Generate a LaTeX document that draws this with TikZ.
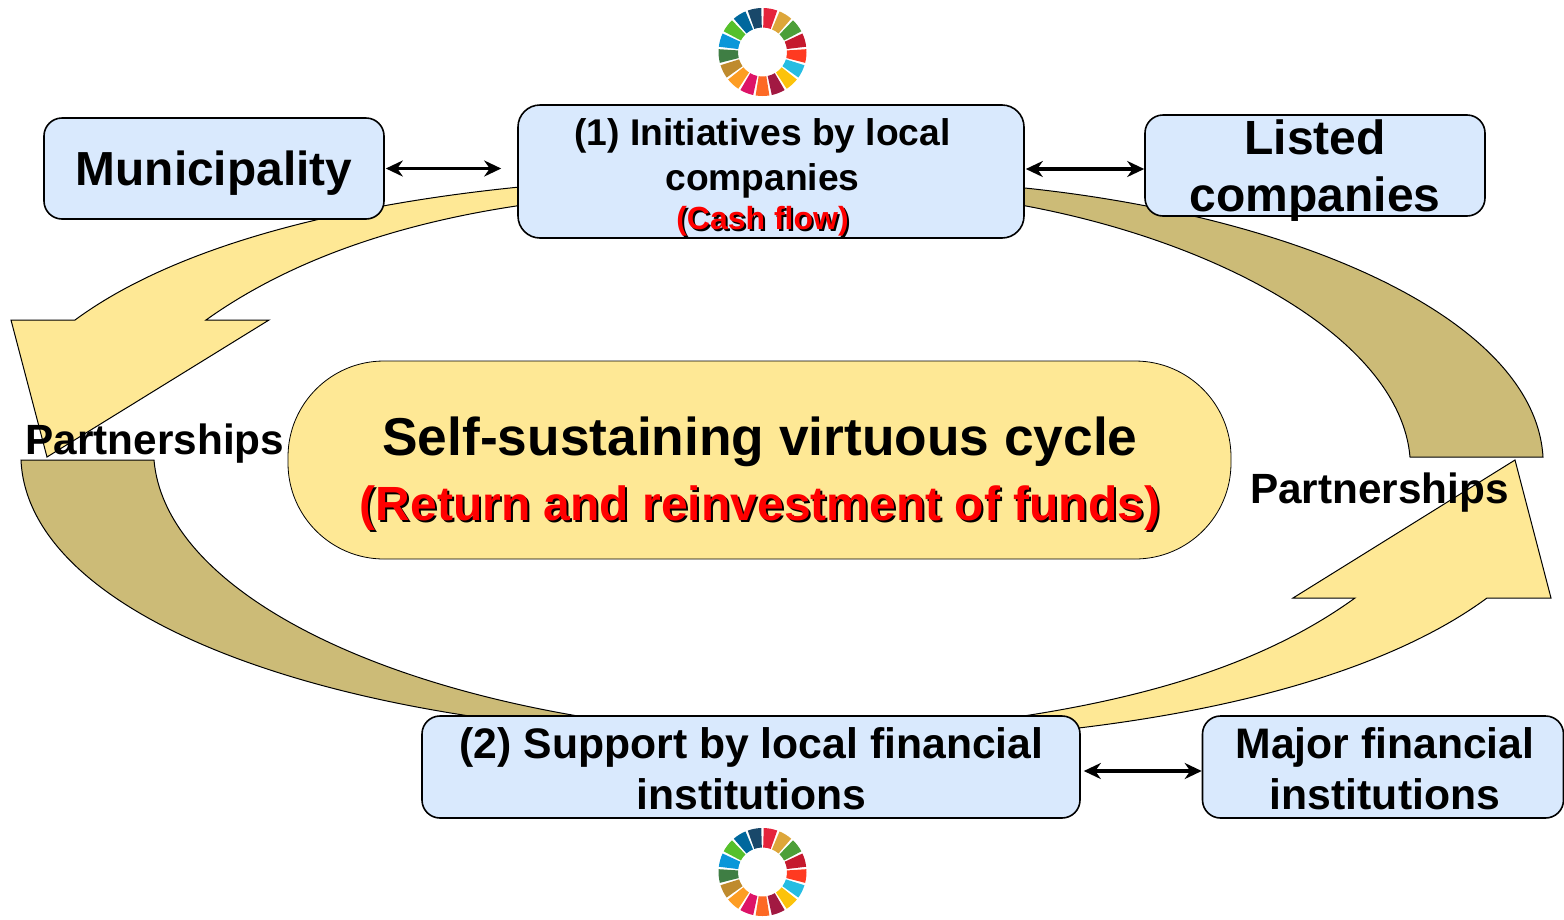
\documentclass[tikz,border=0pt]{standalone}
\usepackage{fontspec}
\setmainfont{Liberation Sans}
\usetikzlibrary{arrows.meta}
\definecolor{boxblue}{HTML}{D9E9FD}
\definecolor{sunyellow}{HTML}{FEE895}
\definecolor{khaki}{HTML}{CCBB77}
\newcommand\fsz[2]{\fontsize{#1}{#2}\selectfont\bfseries}
\newcommand\shtext[1]{\leavevmode\rlap{\kern2pt\raisebox{-2pt}{\textcolor{black}{#1}}}\textcolor{red}{#1}}
% places lines so that the first baseline lies dy below the node centre, shifted by dx
\newcommand\placed[3]{\makebox[0pt]{\kern#1pt\raisebox{#2pt}[0pt][0pt]{\begin{tabular}[t]{@{}c@{}}#3\end{tabular}}\kern-#1pt}}
\tikzset{
  infobox/.style={draw=black,line width=1.6pt,fill=boxblue,rounded corners=18pt,inner sep=0pt,text=black},
  flowyellow/.style={draw=black,line width=1pt,fill=sunyellow,line join=miter},
  flowbrown/.style={draw=black,line width=1pt,fill=khaki,line join=miter},
  linkarrow/.style={line width=3.2pt,{Stealth[length=17pt,width=16pt]}-{Stealth[length=17pt,width=16pt]}},
  plainlabel/.style={inner sep=0pt,text=black,font=\fsz{42.3}{48}},
  sdgwheel/.pic={
    \foreach \k/\c in {1/E5243B,2/DDA63A,3/4C9F38,4/C5192D,5/FF3A21,6/26BDE2,7/FCC30B,8/A21942,9/FD6925,10/DD1367,11/FD9D24,12/BF8B2E,13/3F7E44,14/0A97D9,15/56C02B,16/00689D,17/19486A}{
      \definecolor{wedgecol}{HTML}{\c}
      \pgfmathsetmacro\angA{-90+(\k-1)*21.176+1.6}
      \pgfmathsetmacro\angB{-90+\k*21.176-1.6}
      \fill[wedgecol] (\angA:44) arc[start angle=\angA,end angle=\angB,radius=44] -- (\angB:24.5) arc[start angle=\angB,end angle=\angA,radius=24.5] -- cycle;
    }
  }
}
\begin{document}
\begin{tikzpicture}[x=1pt,y=-1pt]
\useasboundingbox (0,0) rectangle (1564,919);
% flow arrows
\draw[flowyellow] (530,186) .. controls (330,205) and (170,250) .. (75,320) -- (11,320) -- (47,457) -- (269,320) -- (206,320) .. controls (290,260) and (400,222) .. (530,204) -- cycle;
\draw[flowbrown] (1015,187) .. controls (1300,215) and (1535,320) .. (1543,457) -- (1410,457) .. controls (1400,340) and (1220,240) .. (1015,204) -- cycle;
\draw[flowyellow] (1032,733) .. controls (1232,714) and (1392,668) .. (1487,598) -- (1551,598) -- (1515,460) -- (1293,598) -- (1355,598) .. controls (1272,658) and (1162,696) .. (1010,718) -- cycle;
\draw[flowbrown] (590,730) .. controls (262,703) and (27,598) .. (21,460) -- (154,460) .. controls (164,578) and (342,678) .. (590,718) -- cycle;
% centre
\node[draw=black,line width=.8pt,fill=sunyellow,rounded corners=96pt,minimum width=943pt,minimum height=198pt,inner sep=0pt] (cycle) at (759.5,460)
  {\fsz{53.3}{65}\placed{0.5}{5}{Self-sustaining virtuous cycle\\\fsz{48}{56}\shtext{(Return and reinvestment of funds)}}};
% boxes
\node[infobox,minimum width=340pt,minimum height=101pt] (muni) at (214,168.5) {\fsz{47.8}{52}\placed{0}{-17}{Municipality}};
\node[infobox,rounded corners=22pt,minimum width=506pt,minimum height=133pt] (local) at (771,171.5)
  {\fsz{37.2}{45}\placed{-8.5}{26.5}{(1) Initiatives by local\\companies\\[-6pt]\fsz{32}{36}\shtext{(Cash flow)}}};
\node[infobox,minimum width=340pt,minimum height=101pt] (listed) at (1315,165.5) {\fsz{48}{56.5}\placed{0}{11}{Listed\\companies}};
\node[infobox,minimum width=658pt,minimum height=102pt] (fin) at (751,767) {\fsz{42.7}{51}\placed{0.5}{9}{(2) Support by local financial\\institutions}};
\node[infobox,minimum width=361pt,minimum height=102pt] (major) at (1383,767) {\fsz{42.7}{51}\placed{2}{9}{Major financial\\institutions}};
% links
\coordinate (listedport) at ([yshift=-3.5pt]listed.west);
\draw[linkarrow,shorten <=1pt,shorten >=16pt] (muni.east) -- (muni.east -| local.west);
\draw[linkarrow,shorten <=1pt] (listedport -| local.east) -- (listedport);
\draw[linkarrow,shorten <=3pt] ([yshift=-4pt]fin.east) -- ([yshift=-4pt]major.west);
% labels
\node[plainlabel] (pl) at (155,443.5) {Partnerships};
\node[plainlabel] (pr) at (1379.5,492.5) {Partnerships};
% wheels
\pic at (762.5,52) {sdgwheel};
\pic at (762.5,872) {sdgwheel};
\end{tikzpicture}
\end{document}
